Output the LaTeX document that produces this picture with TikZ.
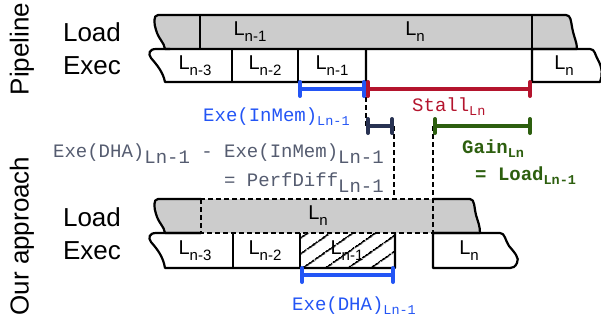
\documentclass[tikz,border=0pt]{standalone}
\usepackage{fontspec}
\setmainfont{Liberation Sans}
\newfontfamily\codefont{Liberation Mono}
\usetikzlibrary{arrows.meta,positioning,calc,patterns.meta}
\definecolor{memcol}{RGB}{35,85,245}
\definecolor{stlcol}{RGB}{180,20,45}
\definecolor{difcol}{RGB}{40,50,82}
\definecolor{gncol} {RGB}{45,95,15}
\definecolor{txtcol}{RGB}{85,92,112}
\definecolor{ldbg}  {RGB}{204,204,204}
\newcommand{\Lsub}[1]{{\fontsize{20}{22}\selectfont L}\raisebox{-6pt}{\fontsize{15}{16}\selectfont #1}}
\newcommand{\csub}[1]{\raisebox{-4pt}{\fontsize{13.5}{15}\selectfont #1}}
\newcommand{\cdrop}[1]{\raisebox{-6pt}{#1}}
\tikzset{
  rowlab/.style  ={inner sep=0pt, font=\fontsize{26}{28}\selectfont},
  sidelab/.style ={inner sep=0pt, rotate=90, font=\fontsize{26}{28}\selectfont},
  blklab/.style  ={inner sep=0pt},
  codelab/.style ={inner sep=0pt, anchor=base west, text=#1,
                   font=\codefont\fontsize{19}{22}\selectfont},
  codebold/.style={codelab=#1, font=\codefont\bfseries\fontsize{19}{22}\selectfont},
  barcol/.style  ={{Bar[round,width=14pt]}-{Bar[round,width=14pt]}, line width=4pt, draw=#1},
  rowln/.style   ={draw=black, line width=2.2pt, line join=round},
  dashln/.style  ={draw=black, line width=2.2pt, dash pattern=on 5pt off 3pt},
}

\begin{document}
\begin{tikzpicture}[x=1pt,y=-1pt]
\useasboundingbox (0,0) rectangle (601,321);

%% Side labels
\node[sidelab] (pipe) at (22,49)  {Pipeline};
\node[sidelab] (ours) at (22,236) {Our approach};
\node[rowlab] (ldtop) at (92,32)  {Load};
\node[rowlab] (extop) at (92,66)  {Exec};
\node[rowlab] (ldbot) at (92,217) {Load};
\node[rowlab] (exbot) at (92,251) {Exec};

%% Pipeline: load row
\filldraw[rowln, fill=ldbg] (158,15) -- (566,15)
  .. controls (571,15) and (571,22) .. (572,27)
  .. controls (574,38) and (577,42) .. (577,49) -- (165,49)
  .. controls (164,42) and (159,40) .. (156,30)
  .. controls (154,24) and (153,15) .. (158,15) -- cycle;
\draw[rowln] (200,15) -- (200,49);
\draw[rowln] (532,15) -- (532,49);

%% Pipeline: exec row
\draw[rowln] (366,49) -- (366,82) -- (165,82)
  .. controls (163,72) and (157,65) .. (151,58)
  .. controls (148,54) and (149,49) .. (156,49) -- (170,49);
\draw[rowln] (232,49) -- (232,82);
\draw[rowln] (298,49) -- (298,82);
\draw[rowln] (532,49) -- (532,82) -- (600,82)
  .. controls (603,75) and (602,67) .. (598,60)
  .. controls (595,55) and (595,49) .. (590,49) -- (532,49);

\node[blklab] (la) at (250,32) {\Lsub{n-1}};
\node[blklab] (lb) at (415,32) {\Lsub{n}};
\node[blklab] (lc) at (195,66) {\Lsub{n-3}};
\node[blklab] (ld) at (265,66) {\Lsub{n-2}};
\node[blklab] (le) at (332,66) {\Lsub{n-1}};
\node[blklab] (lf) at (564,66) {\Lsub{n}};

%% Our approach: load row
\fill[ldbg] (158,199) -- (470,199)
  .. controls (475,199) and (474,208) .. (476,215)
  .. controls (478,222) and (480,226) .. (480,233) -- (165,233)
  .. controls (164,226) and (159,224) .. (156,214)
  .. controls (154,208) and (153,199) .. (158,199) -- cycle;
\draw[rowln] (201,199) -- (158,199)
  .. controls (153,199) and (154,208) .. (156,214)
  .. controls (159,224) and (164,226) .. (165,233) -- (201,233);
\draw[rowln] (433,199) -- (470,199)
  .. controls (475,199) and (474,208) .. (476,215)
  .. controls (478,222) and (480,226) .. (480,233) -- (433,233);
\draw[dashln] (201,199) rectangle (433,233);

%% Our approach: exec row
\fill[pattern={Lines[angle=35,distance=13pt,line width=2pt]}]
  (300,233) rectangle (395,268);
\draw[rowln] (201,233) -- (156,233)
  .. controls (149,233) and (148,238) .. (151,242)
  .. controls (157,249) and (163,256) .. (165,268) -- (395,268) -- (395,233);
\draw[rowln] (233,233) -- (233,268);
\draw[rowln] (300,233) -- (300,268);
\draw[rowln] (433,268) -- (433,233) -- (500,233)
  .. controls (505,233) and (505,240) .. (509,246)
  .. controls (514,252) and (520,258) .. (517,263)
  .. controls (515,267) and (513,268) .. (510,268) -- cycle;

\node[blklab] (ma) at (318,216) {\Lsub{n}};
\node[blklab] (mb) at (195,251) {\Lsub{n-3}};
\node[blklab] (mc) at (265,251) {\Lsub{n-2}};
\node[blklab] (md) at (347,251) {\Lsub{n-1}};
\node[blklab] (me) at (469,251) {\Lsub{n}};

%% Bar ends
\coordinate (imA) at (298,89);
\coordinate (stA) at (366,89);
\coordinate (stB) at (532,89);
\coordinate (pdA) at (366,126);
\coordinate (pdB) at (394,126);
\coordinate (pdC) at (394,199);
\coordinate (gnA) at (433,126);
\coordinate (gnB) at (532,126);
\coordinate (gnC) at (433,233);
\coordinate (dhA) at (300,275);
\coordinate (dhB) at (395,275);

%% Dashed guides
\draw[dashln] (stA) -- (pdA);
\draw[dashln] (pdB) -- (pdC);
\draw[dashln] (gnA) -- (gnC);

%% Bars
\draw[barcol=memcol] (imA) -- (stA);
\draw[barcol=stlcol] (stA) -- (stB);
\draw[barcol=difcol] (pdA) -- (pdB);
\draw[barcol=gncol]  (gnA) -- (gnB);
\draw[barcol=memcol] (dhA) -- (dhB);

%% Bar labels
\node[codelab=memcol] (imlab) at (203,121) {Exe(InMem)\csub{Ln-1}};
\node[codelab=stlcol] (stlab) at (412,111) {Stall\csub{Ln}};
\node[codelab=txtcol, anchor=base east] (dfa) at (384,157)
  {Exe(DHA)\cdrop{Ln-1} - Exe(InMem)\cdrop{Ln-1}};
\node[codelab=txtcol, anchor=base east] (dfb) at (384,186)
  {= PerfDiff\cdrop{Ln-1}};
\node[codebold=gncol] (gnlab) at (462,153) {Gain\csub{Ln}};
\node[codebold=gncol] (ldlab) at (475,180) {= Load\csub{Ln-1}};
\node[codelab=memcol] (dhlab) at (292,310) {Exe(DHA)\csub{Ln-1}};

\end{tikzpicture}
\end{document}
